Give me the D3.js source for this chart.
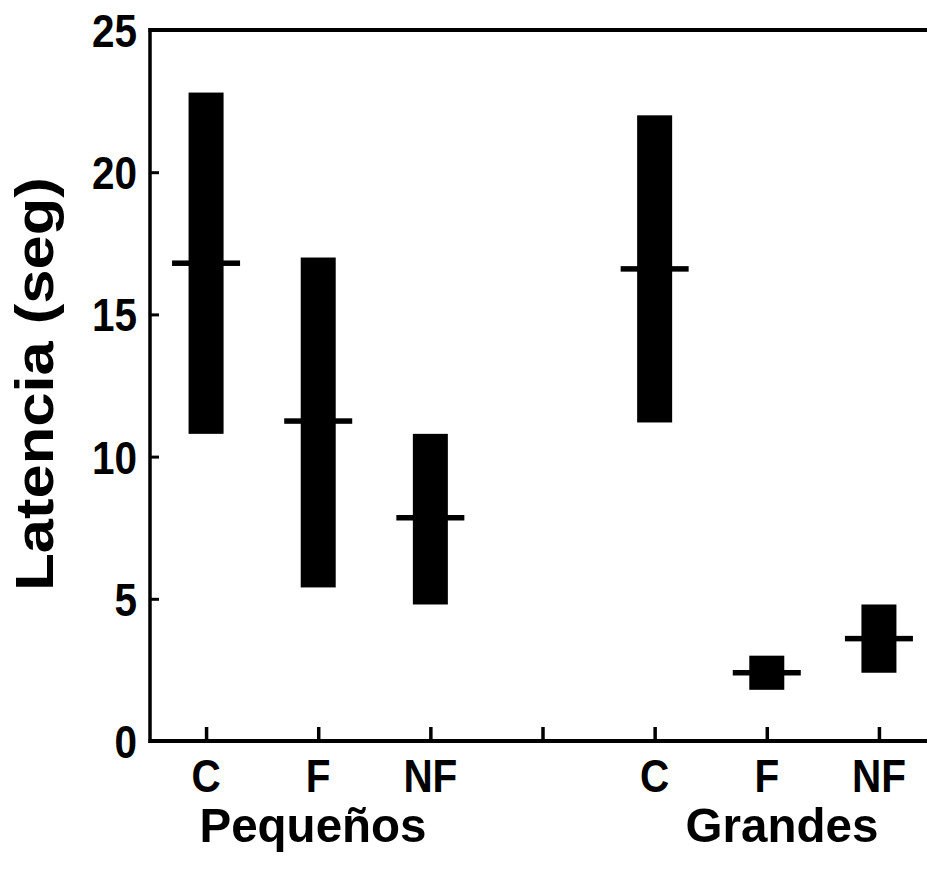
<!DOCTYPE html>
<html>
<head>
<meta charset="utf-8">
<script src="https://cdn.jsdelivr.net/npm/d3@7"></script>
<style>
  html, body { margin: 0; padding: 0; background: #fff; }
  svg { display: block; }
  text { font-family: "Liberation Sans", Arial, Helvetica, sans-serif; font-weight: bold; fill: #000; }
</style>
</head>
<body>
<svg id="chart" width="927" height="871"></svg>
<script>
// ---- data ----
const slots = ["P-C", "P-F", "P-NF", "gap", "G-C", "G-F", "G-NF"];
const slotLabels = ["C", "F", "NF", "", "C", "F", "NF"];
const barSlots = ["P-C", "P-F", "P-NF", "G-C", "G-F", "G-NF"];
const lowerValues = [10.8, 5.4, 4.8, 11.2, 1.8, 2.4];
const upperValues = [22.8, 17.0, 10.8, 22.0, 3.0, 4.8];
const medianValues = [16.8, 11.25, 7.85, 16.6, 2.4, 3.6];
const groupNames = ["Pequeños", "Grandes"];
const yTicks = [0, 5, 10, 15, 20, 25];
const yTitle = "Latencia (seg)";

// ---- layout ----
const svg = d3.select("#chart");
const mLeft = 150, mTop = 30, mBottom = 741, mRight = 927;

const x = d3.scalePoint().domain(slots).range([mLeft, 935]).padding(0.5);
const y = d3.scaleLinear().domain([0, 25]).range([mBottom, mTop]);

const barW = 35, medW = 68, medH = 5.5;

// bars
const rows = barSlots.map((s, i) => ({ s, lo: lowerValues[i], hi: upperValues[i], med: medianValues[i] }));
svg.append("g").selectAll("rect.bar").data(rows).join("rect")
  .attr("class", "bar")
  .attr("x", d => x(d.s) - barW / 2)
  .attr("width", barW)
  .attr("y", d => y(d.hi))
  .attr("height", d => y(d.lo) - y(d.hi))
  .attr("fill", "#000");
svg.append("g").selectAll("rect.med").data(rows).join("rect")
  .attr("class", "med")
  .attr("x", d => x(d.s) - medW / 2)
  .attr("width", medW)
  .attr("y", d => y(d.med) - medH / 2)
  .attr("height", medH)
  .attr("fill", "#000");

// y axis (ticks inside)
const yAxis = d3.axisRight(y).tickValues(yTicks).tickSize(9).tickFormat("");
const gy = svg.append("g").attr("transform", `translate(${mLeft},0)`).call(yAxis);
gy.select(".domain").remove();
gy.selectAll(".tick line").attr("stroke", "#000").attr("stroke-width", 3);

// x axis ticks (inside, pointing up)
const xAxis = d3.axisTop(x).tickValues(slots).tickSize(14).tickFormat("");
const gx = svg.append("g").attr("transform", `translate(0,${mBottom})`).call(xAxis);
gx.select(".domain").remove();
gx.selectAll(".tick line").attr("stroke", "#000").attr("stroke-width", 3.5);

// frame lines: left, top, bottom
svg.append("line").attr("x1", mLeft).attr("x2", mLeft).attr("y1", mTop - 2).attr("y2", mBottom + 2)
  .attr("stroke", "#000").attr("stroke-width", 3.5);
svg.append("line").attr("x1", mLeft - 1.5).attr("x2", mRight).attr("y1", mTop).attr("y2", mTop)
  .attr("stroke", "#000").attr("stroke-width", 4);
svg.append("line").attr("x1", mLeft - 1.5).attr("x2", mRight).attr("y1", mBottom).attr("y2", mBottom)
  .attr("stroke", "#000").attr("stroke-width", 4);

// y tick labels
svg.append("g").selectAll("text").data(yTicks).join("text")
  .attr("transform", d => `translate(137,${y(d) + 17}) scale(0.88,1)`)
  .attr("text-anchor", "end")
  .attr("font-size", 46)
  .text(d => d);

// x tick labels
svg.append("g").selectAll("text").data(slots.filter((s, i) => slotLabels[i] !== "")).join("text")
  .attr("transform", d => `translate(${x(d)},792) scale(0.88,1)`)
  .attr("text-anchor", "middle")
  .attr("font-size", 46)
  .text(d => slotLabels[slots.indexOf(d)]);

// group labels
const groupCenters = [313, 782];
svg.append("g").selectAll("text").data(groupNames).join("text")
  .attr("transform", (d, i) => `translate(${groupCenters[i]},842) scale(0.97,1)`)
  .attr("text-anchor", "middle")
  .attr("font-size", 49)
  .text(d => d);

// y title
svg.append("text")
  .attr("transform", `translate(53,384) scale(0.86,1) rotate(-90)`)
  .attr("text-anchor", "middle")
  .attr("font-size", 61.5)
  .text(yTitle);
</script>
</body>
</html>
